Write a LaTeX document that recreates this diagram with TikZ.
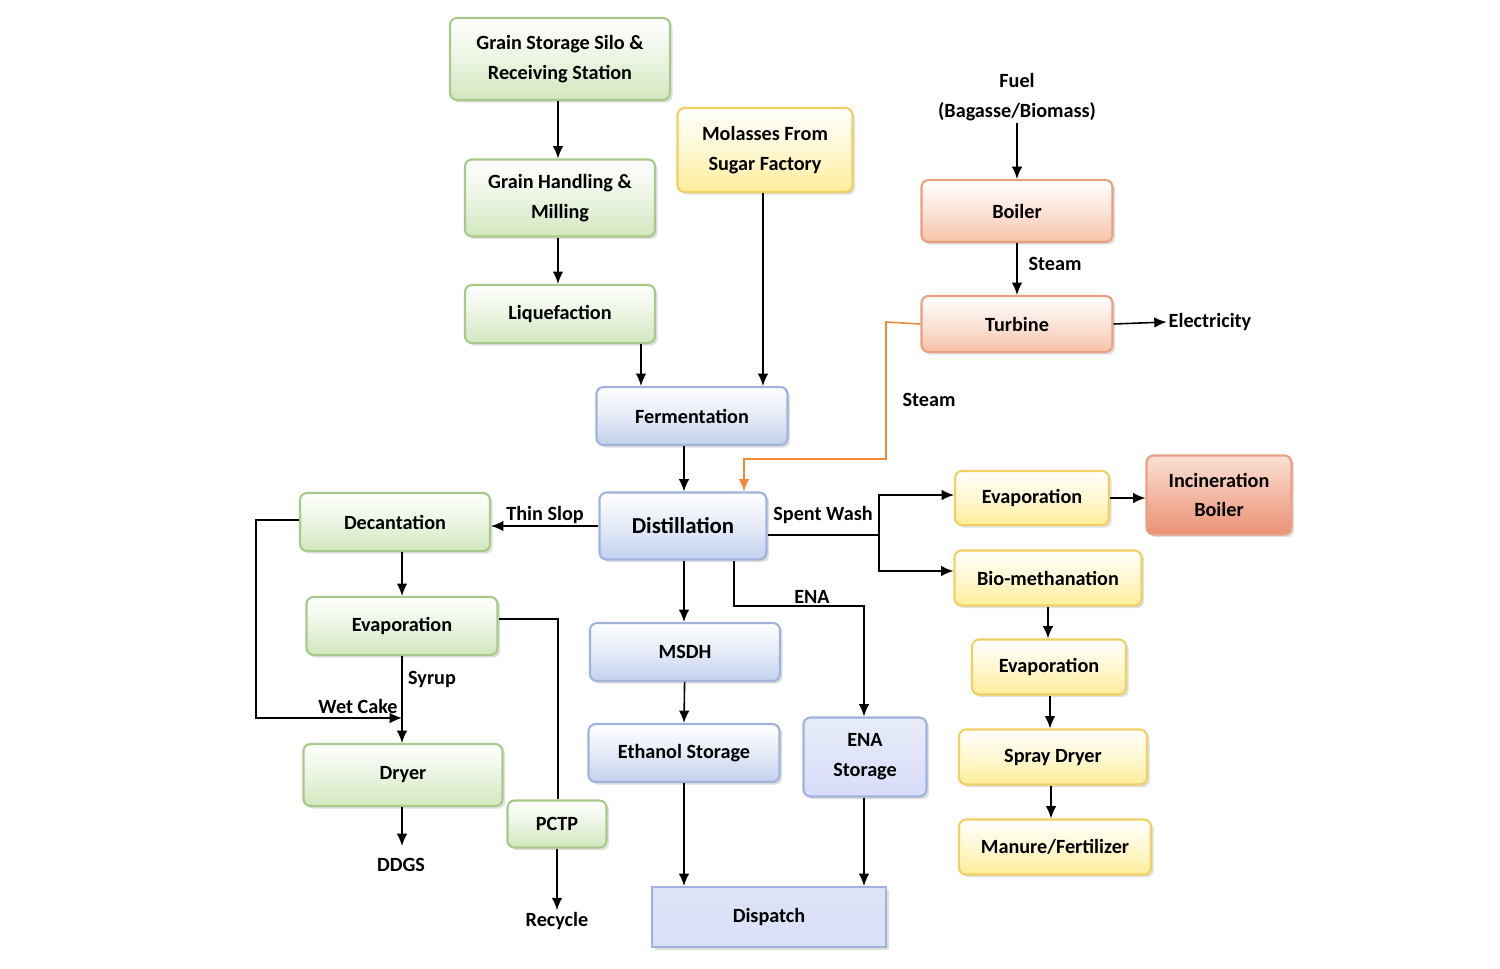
\documentclass[tikz,border=0pt]{standalone}
\usepackage{fontspec}
\setmainfont{Carlito}
\usetikzlibrary{shadows,arrows.meta}
\definecolor{gB}{HTML}{A9C98A}\definecolor{gF}{HTML}{D2E7BD}
\definecolor{yB}{HTML}{F0D060}\definecolor{yF}{HTML}{FFEE9A}
\definecolor{oB}{HTML}{E8A080}\definecolor{oF}{HTML}{F8C2A8}
\definecolor{bB}{HTML}{9FB3DC}\definecolor{bF}{HTML}{C3D1EE}
\definecolor{ctrl}{HTML}{F08A3A}
\begin{document}
\begin{tikzpicture}[x=0.02cm,y=-0.02cm,
 font=\fontsize{11.5}{14}\selectfont\bfseries,
 box/.style={rounded corners=4pt,line width=1.2pt,align=center,inner sep=0pt,
   drop shadow={opacity=0.25,shadow xshift=1.5pt,shadow yshift=-1.5pt}},
 gbox/.style={box,draw=gB,top color=white,bottom color=gF,middle color=gF!45},
 ybox/.style={box,draw=yB,top color=white,bottom color=yF,middle color=yF!45},
 obox/.style={box,draw=oB,top color=white,bottom color=oF,middle color=oF!45},
 bbox/.style={box,draw=bB,top color=white,bottom color=bF,middle color=bF!45},
 lbl/.style={inner sep=1pt},
 arr/.style={-{Latex[length=7pt,width=6pt]},line width=0.9pt},
 ln/.style={line width=0.9pt}]
\useasboundingbox (0,0) rectangle (1500,968);
\node[gbox,minimum width=220*0.02cm,minimum height=82*0.02cm] (gs) at (560,59) {Grain Storage Silo \&\\[3pt]Receiving Station};
\node[gbox,minimum width=190*0.02cm,minimum height=77*0.02cm] (gh) at (560,198) {Grain Handling \&\\[3pt]Milling};
\node[gbox,minimum width=190*0.02cm,minimum height=58*0.02cm] (lq) at (560,314) {Liquefaction};
\node[ybox,minimum width=175*0.02cm,minimum height=84*0.02cm] (mo) at (765,150) {Molasses From\\[3pt]Sugar Factory};
\node[obox,minimum width=191*0.02cm,minimum height=62*0.02cm] (bo) at (1017,211) {Boiler};
\node[obox,minimum width=191*0.02cm,minimum height=56*0.02cm] (tu) at (1017,324) {Turbine};
\node[bbox,minimum width=191*0.02cm,minimum height=58*0.02cm] (fe) at (692,416) {Fermentation};
\node[bbox,minimum width=167*0.02cm,minimum height=67*0.02cm,font=\fontsize{13}{15}\selectfont\bfseries] (di) at (683,526) {Distillation};
\node[gbox,minimum width=190*0.02cm,minimum height=58*0.02cm] (de) at (395,522) {Decantation};
\node[gbox,minimum width=191*0.02cm,minimum height=58*0.02cm] (ev) at (402,626) {Evaporation};
\node[gbox,minimum width=199*0.02cm,minimum height=62*0.02cm] (dr) at (403,775) {Dryer};
\node[gbox,minimum width=99*0.02cm,minimum height=47*0.02cm] (pc) at (557,824) {PCTP};
\node[bbox,minimum width=190*0.02cm,minimum height=58*0.02cm] (ms) at (685,652) {MSDH};
\node[bbox,minimum width=191*0.02cm,minimum height=58*0.02cm] (es) at (684,753) {Ethanol Storage};
\node[box,draw=bB,top color=white!60!bF,bottom color=bF!80!blue!40,minimum width=123*0.02cm,minimum height=79*0.02cm] (na) at (865,757) {ENA\\[3pt]Storage};
\node[box,rounded corners=0pt,draw=bB,top color=white!40!bF,bottom color=bF!85!blue!40,minimum width=234*0.02cm,minimum height=60*0.02cm] (dp) at (769,917) {Dispatch};
\node[ybox,minimum width=154*0.02cm,minimum height=54*0.02cm] (ey) at (1032,498) {Evaporation};
\node[box,draw=oB,top color=oF!50,bottom color=oB!90!red,minimum width=145*0.02cm,minimum height=79*0.02cm] (ib) at (1219,495) {Incineration\\[3pt]Boiler};
\node[ybox,minimum width=187*0.02cm,minimum height=55*0.02cm] (bm) at (1048,578) {Bio-methanation};
\node[ybox,minimum width=154*0.02cm,minimum height=55*0.02cm] (e2) at (1049,667) {Evaporation};
\node[ybox,minimum width=188*0.02cm,minimum height=55*0.02cm] (sd) at (1053,757) {Spray Dryer};
\node[ybox,minimum width=192*0.02cm,minimum height=55*0.02cm] (mf) at (1055,847) {Manure/Fertilizer};
% labels
\node[lbl,align=center] (fu) at (1017,97) {Fuel\\[3pt](Bagasse/Biomass)};
\node[lbl] (el) at (1210,322) {Electricity};
\node[lbl] (st1) at (1055,264) {Steam};
\node[lbl] (st2) at (929,400) {Steam};
\node[lbl] (ts) at (545,515) {Thin Slop};
\node[lbl] (sw) at (823,515) {Spent Wash};
\node[lbl] (en) at (812,597) {ENA};
\node[lbl] (sy) at (432,679) {Syrup};
\node[lbl] (wc) at (358,706) {Wet Cake};
\node[lbl] (dd) at (401,865) {DDGS};
\node[lbl] (rc) at (557,921) {Recycle};
\coordinate (wcE) at (402,718);
\coordinate (swJ) at (879,535);
% connectors
\draw[arr] (gs.south -| 558,0) -- (gh.north -| 558,0);
\draw[arr] (gh.south -| 558,0) -- (lq.north -| 558,0);
\draw[arr] (lq.south -| 641,0) -- (fe.north -| 641,0);
\draw[arr] (mo.south -| 763,0) -- (fe.north -| 763,0);
\draw[arr] (fu.south) -- (bo.north);
\draw[arr] (bo) -- (tu);
\draw[arr] (tu.east) -- (el.west);
\draw[arr,ctrl] (tu.west) -- (886,322) -- (886,459) -- (744,459) -- (di.north -| 744,0);
\draw[arr] (fe.south -| 684,0) -- (di.north -| 684,0);
\draw[arr] (di.west) -- (di.west -| de.east);
\draw[ln] (di.east |- swJ) -- (swJ);
\draw[arr] (swJ) |- (ey.west |- 0,495);
\draw[arr] (swJ) |- (bm.west |- 0,571);
\draw[arr] (ey.east) -- (ib.west |- ey.east);
\draw[arr] (di.south -| 684,0) -- (ms.north -| 684,0);
\draw[arr] (di.south -| 734,0) -- (734,606) -- (864,606) -- (na.north -| 864,0);
\draw[arr] (de.west |- 0,520) -- (256,520) -- (256,718) -- (wcE);
\draw[arr] (de.south -| 402,0) -- (ev.north -| 402,0);
\draw[arr] (ev.south -| 402,0) -- (dr.north -| 402,0);
\draw[ln] (ev.east |- 0,619) -- (558,619) -- (pc.north -| 558,0);
\draw[arr] (pc.south -| 557,0) -- (rc.north);
\draw[arr] (dr.south -| 402,0) -- (402,846);
\draw[arr] (ms) -- (es.north -| 684,0);
\draw[arr] (es.south -| 684,0) -- (dp.north -| 684,0);
\draw[arr] (na.south -| 864,0) -- (dp.north -| 864,0);
\draw[arr] (bm.south -| 1048,0) -- (e2.north -| 1048,0);
\draw[arr] (e2.south -| 1050,0) -- (sd.north -| 1050,0);
\draw[arr] (sd.south -| 1051,0) -- (mf.north -| 1051,0);
\end{tikzpicture}
\end{document}
